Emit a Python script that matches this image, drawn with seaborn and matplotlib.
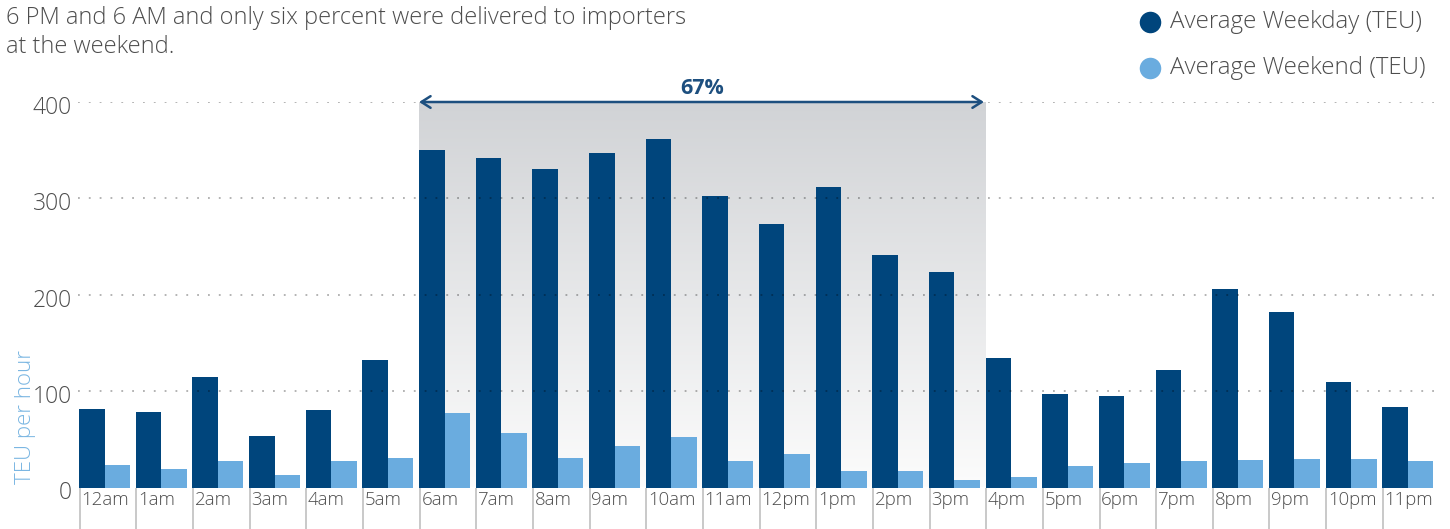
import numpy as np
import pandas as pd
import matplotlib
matplotlib.use("Agg")
import matplotlib.pyplot as plt
import seaborn as sns
from matplotlib.colors import LinearSegmentedColormap
from matplotlib.lines import Line2D

hours = ["12am", "1am", "2am", "3am", "4am", "5am", "6am", "7am", "8am", "9am",
         "10am", "11am", "12pm", "1pm", "2pm", "3pm", "4pm", "5pm", "6pm", "7pm",
         "8pm", "9pm", "10pm", "11pm"]
weekday_teu = [81, 78, 115, 53, 80, 132, 350, 342, 330, 347,
               362, 302, 273, 312, 241, 224, 134, 97, 95, 122,
               206, 182, 109, 84]
weekend_teu = [23, 19, 27, 13, 27, 31, 77, 57, 31, 43,
               52, 27, 35, 17, 17, 8, 11, 22, 25, 28,
               29, 30, 30, 27]
series_names = ["Average Weekday (TEU)", "Average Weekend (TEU)"]
y_ticks = [0, 100, 200, 300, 400]
peak_share = "67%"
peak_start, peak_end = "6am", "4pm"
note_lines = ["6 PM and 6 AM and only six percent were delivered to importers",
              "at the weekend."]

DARK = "#00457c"
LIGHT = "#6aacdf"
GREY_TXT = "#4d4d4d"
FONT = "Open Sans"

sns.set_theme(style="white")
plt.rcParams["font.family"] = [FONT, "DejaVu Sans"]

df = pd.DataFrame({
    "hour": hours * 2,
    "teu": weekday_teu + weekend_teu,
    "series": [series_names[0]] * len(hours) + [series_names[1]] * len(hours),
})

W, H = 1450, 529
fig = plt.figure(figsize=(W / 100, H / 100), dpi=100)
ax = fig.add_axes([78 / W, (H - 487.5) / H, 1362 / W, (487.5 - 102) / H])

# shaded peak window behind the bars
x0 = hours.index(peak_start) - 0.45
x1 = hours.index(peak_end) - 0.45
cmap = LinearSegmentedColormap.from_list("peak", ["#fcfcfc", "#d1d3d6"])
grad = np.linspace(0, 1, 256).reshape(-1, 1)
ax.imshow(grad, extent=[x0, x1, 0, y_ticks[-1]], origin="lower", aspect="auto",
          cmap=cmap, zorder=0, interpolation="bilinear")

sns.barplot(data=df, x="hour", y="teu", hue="series", order=hours,
            hue_order=series_names, palette=[DARK, LIGHT], saturation=1,
            width=0.9, gap=0, linewidth=0, legend=False, ax=ax, zorder=2)

ax.set_xlim(-0.47, 23.57)
ax.set_ylim(0, y_ticks[-1])
ax.set_xticks([])
ax.set_yticks([])
ax.set_xlabel("")
ax.set_ylabel("")
sns.despine(ax=ax, left=True, bottom=True)
ax.patch.set_alpha(0)

# dotted gridlines over the bars
for v in y_ticks[1:]:
    ax.axhline(v, color="black", alpha=0.32, lw=1.3, ls=(0, (1, 5.0)), zorder=3)

# value axis labels
for v in y_ticks:
    ax.text(-0.576, v - 6.2, str(v), ha="right", va="center", fontsize=16.5,
            color=GREY_TXT, fontweight="light", clip_on=False)

# category separators and labels below the baseline
for i, h in enumerate(hours):
    ax.plot([i - 0.44, i - 0.44], [0, -45], color="#c9c9c9", lw=1.4,
            clip_on=False, zorder=1, solid_capstyle="butt")
    ax.text(i - 0.41, -13, h, ha="left", va="center", fontsize=13.4,
            color=GREY_TXT, fontweight="light", clip_on=False)

# span arrow with share
ax.annotate("", xy=(x0, y_ticks[-1]), xytext=(x1 - 0.03, y_ticks[-1]),
            arrowprops=dict(arrowstyle="<->,head_length=0.55,head_width=0.35",
                            color="#1d4f7f", lw=1.8, shrinkA=0, shrinkB=0),
            annotation_clip=False, zorder=5)
ax.text((x0 + x1) / 2, y_ticks[-1] + 14, peak_share, ha="center", va="center",
        fontsize=15.5, fontweight="bold", color="#1d4f7f", clip_on=False)

fig.text(25 / W, 1 - 417 / H, "TEU per hour", rotation=90, ha="center",
         va="center", fontsize=16, color="#7ab6e2", fontweight="light")

# note text at top left
for k, line in enumerate(note_lines):
    fig.text(6 / W, 1 - (18 + 29 * k) / H, line, ha="left", va="center",
             fontsize=17, color=GREY_TXT, fontweight="light")

# legend with round markers
for k, (name, col) in enumerate(zip(series_names, [DARK, LIGHT])):
    yc = 1 - (22 + 46 * k) / H
    fig.add_artist(Line2D([1150 / W], [yc], marker="o", markersize=15.5,
                          color=col, markeredgewidth=0, linestyle="none",
                          transform=fig.transFigure))
    fig.text(1170 / W, yc, name, ha="left", va="center", fontsize=17.4,
             color=GREY_TXT, fontweight="light")

fig.savefig("out.png", dpi=100)
